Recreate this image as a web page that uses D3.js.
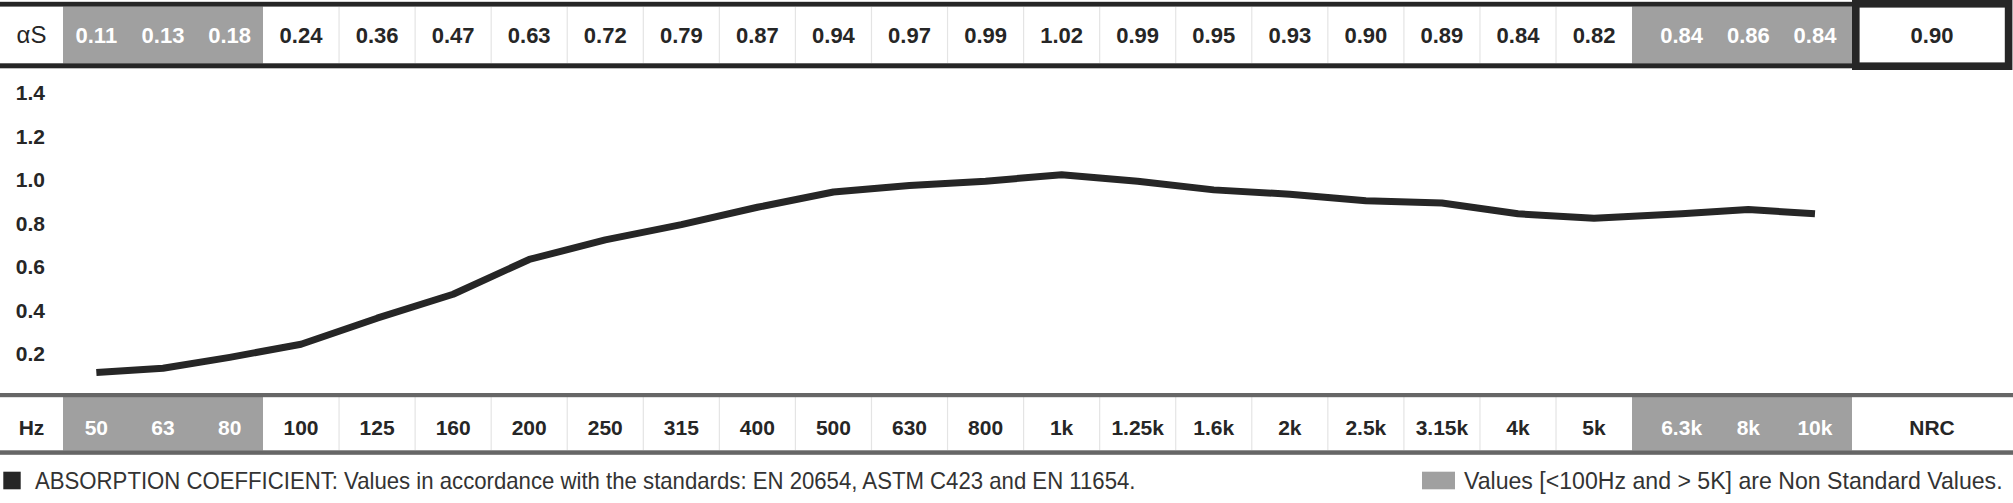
<!DOCTYPE html>
<html>
<head>
<meta charset="utf-8">
<script src="https://cdn.jsdelivr.net/npm/d3@7"></script>
<style>
  body { margin: 0; background: #fff; }
  svg { display: block; }
</style>
</head>
<body>
<svg id="chart" width="2013" height="503"></svg>
<script>
// data
const freqs = ["50", "63", "80", "100", "125", "160", "200", "250", "315", "400", "500", "630",
  "800", "1k", "1.25k", "1.6k", "2k", "2.5k", "3.15k", "4k", "5k", "6.3k", "8k", "10k"];
const alphaS = [0.11, 0.13, 0.18, 0.24, 0.36, 0.47, 0.63, 0.72, 0.79, 0.87, 0.94, 0.97,
  0.99, 1.02, 0.99, 0.95, 0.93, 0.90, 0.89, 0.84, 0.82, 0.84, 0.86, 0.84];
const nonStandard = ["50", "63", "80", "6.3k", "8k", "10k"];
const yTicks = [0.2, 0.4, 0.6, 0.8, 1.0, 1.2, 1.4];
const nrcValue = 0.90;

const svg = d3.select("#chart");
const dark = "#262626";
const grey = "#a0a0a0";
const font = "'Liberation Sans', Arial, sans-serif";

// column layout (label column, grey block, white block, grey block, NRC)
let colX0 = [];
let colW = [];
freqs.forEach((f, i) => {
    if (i < 3) { colX0.push(63 + i * 66.67); colW.push(66.67); }
    else if (i < 21) { colX0.push(263 + (i - 3) * 76.06); colW.push(76.06); }
    else { colX0.push(1648.3 + (i - 21) * 66.67); colW.push(66.67); }
});
const centers = colX0.map((x, i) => x + colW[i] / 2);

const x = d3.scaleOrdinal().domain(freqs).range(centers);
const y = d3.scaleLinear().domain([0, 1.4]).range([396.5, 92]);

// grey blocks (non standard)
const blocks = [[63, 263], [1632, 1852]];
[[6.5, 63.5], [397, 450.5]].forEach(r => {
    svg.selectAll(null).data(blocks).join("rect")
        .attr("x", d => d[0]).attr("width", d => d[1] - d[0])
        .attr("y", r[0]).attr("height", r[1] - r[0])
        .attr("fill", grey);
});

// thin separators between white cells
let seps = d3.range(1, 18).map(k => 263 + k * 76.06);
[[7, 63], [397, 450]].forEach(r => {
    svg.selectAll(null).data(seps).join("line")
        .attr("x1", d => d).attr("x2", d => d)
        .attr("y1", r[0]).attr("y2", r[1])
        .attr("stroke", "#e4e4e4").attr("stroke-width", 1.2);
});

// header lines
svg.append("rect").attr("x", 0).attr("y", 1.8).attr("width", 1852).attr("height", 4.8).attr("fill", dark);
svg.append("rect").attr("x", 0).attr("y", 63.3).attr("width", 1852).attr("height", 5).attr("fill", dark);
// bottom row lines
svg.append("rect").attr("x", 0).attr("y", 393).attr("width", 2013).attr("height", 4.2).attr("fill", "#666");
svg.append("rect").attr("x", 0).attr("y", 450.3).attr("width", 2013).attr("height", 4.5).attr("fill", "#666");

// NRC box
svg.append("rect")
    .attr("x", 1855.8).attr("y", 3.8).attr("width", 152.8).attr("height", 62.4)
    .attr("fill", "#fff").attr("stroke", dark).attr("stroke-width", 7.6);

// header texts
svg.append("text").attr("x", 31.5).attr("y", 42.5)
    .attr("text-anchor", "middle").attr("font-family", font).attr("font-size", 24)
    .attr("fill", dark).text("αS");

svg.selectAll(".val").data(freqs).join("text")
    .attr("class", "val")
    .attr("x", d => x(d)).attr("y", 42.7)
    .attr("text-anchor", "middle").attr("font-family", font)
    .attr("font-weight", "bold").attr("font-size", 22)
    .attr("fill", d => nonStandard.includes(d) ? "#fff" : dark)
    .text((d, i) => alphaS[i].toFixed(2));

svg.append("text").attr("x", 1932).attr("y", 42.7)
    .attr("text-anchor", "middle").attr("font-family", font)
    .attr("font-weight", "bold").attr("font-size", 22)
    .attr("fill", dark).text(nrcValue.toFixed(2));

// bottom row texts
svg.append("text").attr("x", 31.5).attr("y", 435)
    .attr("text-anchor", "middle").attr("font-family", font)
    .attr("font-weight", "bold").attr("font-size", 21)
    .attr("fill", dark).text("Hz");

svg.selectAll(".hz").data(freqs).join("text")
    .attr("class", "hz")
    .attr("x", d => x(d)).attr("y", 435)
    .attr("text-anchor", "middle").attr("font-family", font)
    .attr("font-weight", "bold").attr("font-size", 21)
    .attr("fill", d => nonStandard.includes(d) ? "#fff" : dark)
    .text(d => d);

svg.append("text").attr("x", 1932).attr("y", 435)
    .attr("text-anchor", "middle").attr("font-family", font)
    .attr("font-weight", "bold").attr("font-size", 21)
    .attr("fill", dark).text("NRC");

// y axis
const yAxis = svg.append("g")
    .attr("transform", "translate(45,0)")
    .call(d3.axisLeft(y).tickValues(yTicks).tickSize(0).tickPadding(0).tickFormat(d3.format(".1f")));
yAxis.select(".domain").remove();
yAxis.selectAll("text")
    .attr("font-family", font).attr("font-weight", "bold")
    .attr("font-size", 21).attr("fill", dark).attr("dy", "0.36em");

// curve
const line = d3.line()
    .x((d, i) => x(freqs[i]))
    .y(d => y(d));

svg.append("path")
    .datum(alphaS)
    .attr("d", line)
    .attr("fill", "none")
    .attr("stroke", dark)
    .attr("stroke-width", 7)
    .attr("stroke-linejoin", "round");

// footnotes, squeezed horizontally to the width of the condensed original
const noteFont = "'Liberation Sans Narrow', 'Liberation Sans', Arial, sans-serif";
function note(x0, target, str) {
    let t = svg.append("text")
        .attr("font-family", noteFont).attr("font-size", 24).attr("fill", "#333")
        .text(str);
    let w = t.node().getComputedTextLength();
    t.attr("transform", "translate(" + x0 + ",489) scale(" + (target / w) + ",1)");
}
svg.append("rect").attr("x", 3.3).attr("y", 471.7).attr("width", 17.4).attr("height", 17.6).attr("fill", dark);
note(35, 1101, "ABSORPTION COEFFICIENT: Values in accordance with the standards: EN 20654, ASTM C423 and EN 11654.");

svg.append("rect").attr("x", 1422).attr("y", 471.7).attr("width", 33).attr("height", 17.6).attr("fill", grey);
note(1464, 539, "Values [<100Hz and > 5K] are Non Standard Values.");
</script>
</body>
</html>
